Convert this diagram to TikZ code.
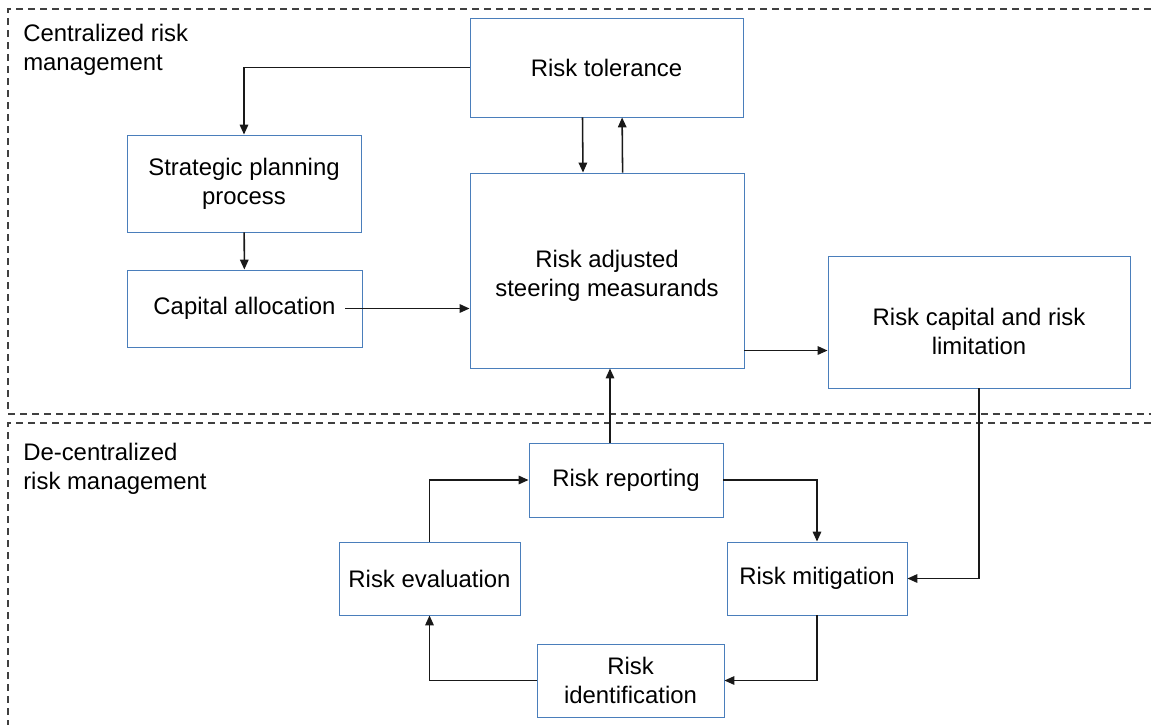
\documentclass[tikz,border=0pt]{standalone}
\usepackage{fontspec}
\setmainfont{Liberation Sans}
\usetikzlibrary{arrows.meta}
\definecolor{boxblue}{HTML}{4A7EBB}
\definecolor{zonegray}{HTML}{404040}
\tikzset{
  BoxText/.style = { align = center, font = \fontsize{17}{20.6}\selectfont },
  BoxStyle/.style = { rectangle, draw = boxblue, line width = 0.65pt,
                      inner sep = 2pt, BoxText },
  EdgeStyle/.style = { ->, line width = 1.1pt, black!90 },
  ZoneStyle/.style = { zonegray, line width = 1.2pt,
                       dash pattern = on 0.175cm off 0.125cm },
  TitleStyle/.style = { anchor = north west, align = left, inner sep = 0pt,
                        font = \fontsize{17}{20.6}\selectfont } }

\begin{document}
\begin{tikzpicture}[x=0.025cm, y=-0.025cm, >={Triangle[length=7pt,width=6pt]}]
  \useasboundingbox (0,0) rectangle (1151,725);
  \draw[ZoneStyle] (1151,9) -- (8,9) -- (8,414) -- (1151,414);
  \draw[ZoneStyle] (1151,423) -- (8,423) -- (8,725);
  \node[TitleStyle] (central) at (23,24) {Centralized risk\\management};
  \node[TitleStyle] (decentral) at (23,443) {De-centralized\\risk management};

  \node[BoxStyle, minimum width=273*0.025cm, minimum height=99*0.025cm] (tol) at (606.5,67.5) {Risk tolerance};
  \node[BoxStyle, minimum width=234*0.025cm, minimum height=97*0.025cm] (strat) at (244,183.5) {Strategic planning\\process};
  \node[BoxStyle, minimum width=235*0.025cm, minimum height=77*0.025cm] (cap) at (244.5,308.5) {Capital allocation};
  \node[BoxStyle, minimum width=274*0.025cm, minimum height=195*0.025cm,
        label={[BoxText, yshift=-0.14cm]center:{Risk adjusted\\steering measurands}}] (ram) at (607,270.5) {};
  \node[BoxStyle, minimum width=302*0.025cm, minimum height=132*0.025cm,
        label={[BoxText, yshift=-0.23cm]center:{Risk capital and risk\\limitation}}] (rcap) at (979,322) {};
  \node[BoxStyle, minimum width=194*0.025cm, minimum height=74*0.025cm] (rep) at (626,480) {Risk reporting};
  \node[BoxStyle, minimum width=181*0.025cm, minimum height=73*0.025cm] (eval) at (429.5,578.5) {Risk evaluation};
  \node[BoxStyle, minimum width=180*0.025cm, minimum height=73*0.025cm] (miti) at (817,578.5) {Risk mitigation};
  \node[BoxStyle, minimum width=187*0.025cm, minimum height=73*0.025cm] (ident) at (630.5,680.5) {Risk\\identification};

  \draw[EdgeStyle] (tol.west) -| (strat.north);
  \draw[EdgeStyle] (strat) -- (cap);
  \draw[EdgeStyle] ([xshift=-0.425cm]cap.east) -- (cap.east -| ram.west);
  \draw[EdgeStyle] ([xshift=-0.6cm]tol.south) -- ([xshift=-0.6cm]ram.north);
  \draw[EdgeStyle] ([xshift=0.39cm]ram.north) -- ([xshift=0.39cm]tol.south);
  \draw[EdgeStyle] ([yshift=-2cm]ram.east) -- ([yshift=-2cm]ram.east -| rcap.west);
  \draw[EdgeStyle] (rcap.south) |- (miti.east);
  \draw[EdgeStyle] ([xshift=-0.4cm]rep.north) -- ([xshift=-0.4cm]rep.north |- ram.south);
  \draw[EdgeStyle] (rep.east) -| (miti.north);
  \draw[EdgeStyle] (miti.south) |- (ident.east);
  \draw[EdgeStyle] (ident.west) -| (eval.south);
  \draw[EdgeStyle] (eval.north) |- (rep.west);

\end{tikzpicture}
\end{document}
